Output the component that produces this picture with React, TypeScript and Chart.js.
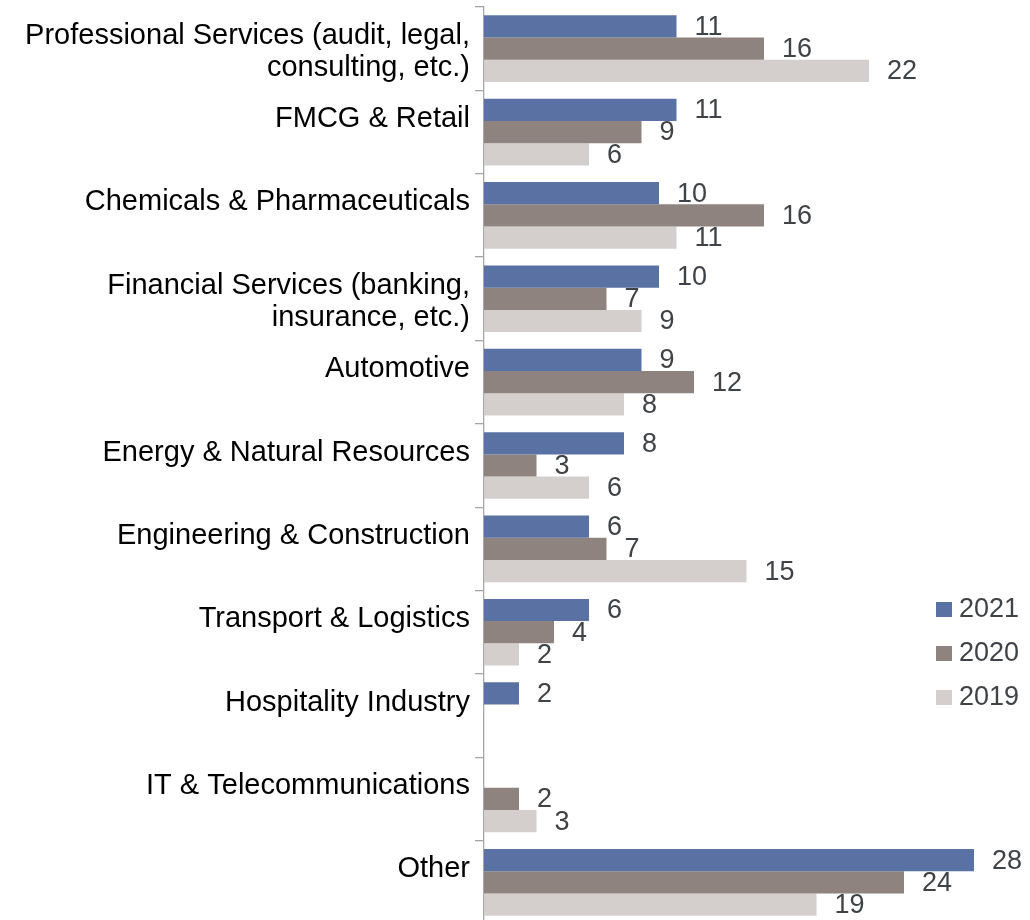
import React, { useEffect, useRef } from "react";
import { Chart, registerables } from "chart.js";

Chart.register(...registerables);

const categories: (string | string[])[] = [
  ["", "Professional Services (audit, legal,", "consulting, etc.)"],
  "FMCG & Retail",
  "Chemicals & Pharmaceuticals",
  ["", "Financial Services (banking,", "insurance, etc.)"],
  "Automotive",
  "Energy & Natural Resources",
  "Engineering & Construction",
  "Transport & Logistics",
  "Hospitality Industry",
  "IT & Telecommunications",
  "Other",
];

const seriesNames = ["2021", "2020", "2019"];
const values2021: (number | null)[] = [11, 11, 10, 10, 9, 8, 6, 6, 2, null, 28];
const values2020: (number | null)[] = [16, 9, 16, 7, 12, 3, 7, 4, null, 2, 24];
const values2019: (number | null)[] = [22, 6, 11, 9, 8, 6, 15, 2, null, 3, 19];
const colors = ["#5a72a3", "#8e837e", "#d4cfcc"];

const FONT = "'Liberation Sans', Arial, sans-serif";
const LABEL_COLOR = "#3e4347";

const dataLabelPlugin = {
  id: "dataLabels",
  afterDatasetsDraw(chart: any) {
    const ctx = chart.ctx;
    ctx.save();
    ctx.font = `27px ${FONT}`;
    ctx.fillStyle = LABEL_COLOR;
    ctx.textAlign = "left";
    ctx.textBaseline = "middle";
    chart.data.datasets.forEach((ds: any, i: number) => {
      const meta = chart.getDatasetMeta(i);
      meta.data.forEach((el: any, j: number) => {
        const v = ds.data[j];
        if (v === null || v === undefined) return;
        ctx.fillText(String(v), el.x + 18, el.y + 1);
      });
    });
    ctx.restore();
  },
};

const legendPlugin = {
  id: "customLegend",
  afterDraw(chart: any) {
    const ctx = chart.ctx;
    ctx.save();
    ctx.font = `27px ${FONT}`;
    ctx.textAlign = "left";
    ctx.textBaseline = "middle";
    chart.data.datasets.forEach((ds: any, i: number) => {
      const y = 602 + i * 44;
      ctx.fillStyle = ds.backgroundColor;
      ctx.fillRect(936, y, 16, 15);
      ctx.fillStyle = LABEL_COLOR;
      ctx.fillText(ds.label, 959, y + 8);
    });
    ctx.restore();
  },
};

export default function App() {
  const ref = useRef<HTMLCanvasElement | null>(null);
  useEffect(() => {
    if (!ref.current) return;
    const chart = new Chart(ref.current, {
      type: "bar",
      data: {
        labels: categories,
        datasets: [values2021, values2020, values2019].map((d, i) => ({
          label: seriesNames[i],
          data: d,
          backgroundColor: colors[i],
          borderWidth: 0,
          categoryPercentage: 0.8,
          barPercentage: 1,
        })),
      },
      options: {
        indexAxis: "y",
        animation: false,
        responsive: false,
        maintainAspectRatio: false,
        layout: { padding: { top: 7, right: 21, bottom: 0, left: 0 } },
        plugins: {
          legend: { display: false },
          tooltip: { enabled: false },
        },
        scales: {
          x: {
            display: false,
            min: 0,
            max: 30,
          },
          y: {
            afterFit(scale: any) {
              scale.width = 484;
              scale.paddingTop = 0;
              scale.paddingBottom = 0;
            },
            grid: {
              offset: true,
              drawOnChartArea: false,
              tickLength: 9,
              color: "#a6a6a6",
              lineWidth: 1.3,
            },
            border: { color: "#a6a6a6", width: 1.3 },
            ticks: {
              color: "#000000",
              padding: 5,
              labelOffset: -13,
              autoSkip: false,
              font: { family: FONT, size: 29, lineHeight: 1.1 },
            },
          },
        },
      },
      plugins: [dataLabelPlugin, legendPlugin],
    });
    return () => chart.destroy();
  }, []);
  return (
    <div style={{ position: "fixed", left: 0, top: 0, width: 1030, height: 924, background: "#fff" }}>
      <canvas ref={ref} width={1030} height={924} style={{ width: 1030, height: 924 }} />
    </div>
  );
}
